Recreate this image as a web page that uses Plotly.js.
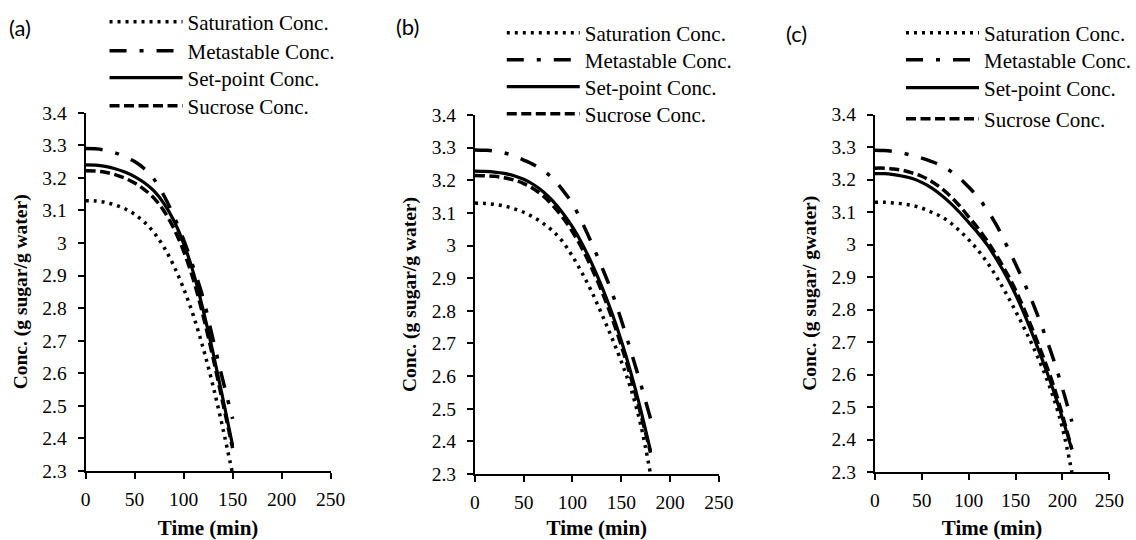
<!DOCTYPE html>
<html>
<head>
<meta charset="utf-8">
<script src="https://cdn.plot.ly/plotly-3.0.1.min.js"></script>
<style>html,body{margin:0;padding:0;background:#fff}#chart{width:1136px;height:540px}</style>
</head>
<body>
<div id="chart"></div>
<script>
// ---------- data ----------
const seriesNames = ["Saturation Conc.", "Metastable Conc.", "Set-point Conc.", "Sucrose Conc."];
const panelLabels = ["(a)", "(b)", "(c)"];
const xTitle = "Time (min)";
const yTitles = ["Conc. (g sugar/g water)", "Conc. (g sugar/g water)", "Conc. (g sugar/ gwater)"];

// Panel (a)
const timeA = [0,10,20,30,40,50,60,70,80,90,100,110,120,130,140,150];
const satA  = [3.13,3.129,3.125,3.117,3.105,3.088,3.064,3.031,2.987,2.93,2.86,2.777,2.677,2.562,2.432,2.292];
const metaA = [3.29,3.289,3.285,3.277,3.265,3.25,3.228,3.195,3.145,3.083,3.01,2.925,2.83,2.705,2.58,2.46];
const setA  = [3.24,3.239,3.235,3.228,3.218,3.204,3.185,3.159,3.121,3.069,2.999,2.909,2.794,2.664,2.524,2.379];
const sucA  = [3.222,3.221,3.217,3.21,3.199,3.184,3.164,3.137,3.098,3.045,2.975,2.887,2.776,2.648,2.51,2.37];

// Panel (b)
const timeB = [0,10,20,30,40,50,60,70,80,90,100,110,120,130,140,150,160,170,180];
const satB  = [3.13,3.129,3.126,3.121,3.113,3.102,3.087,3.068,3.044,3.012,2.967,2.915,2.857,2.79,2.72,2.645,2.56,2.45,2.3];
const metaB = [3.293,3.292,3.29,3.284,3.275,3.262,3.248,3.23,3.205,3.17,3.128,3.07,3.005,2.935,2.86,2.772,2.675,2.575,2.47];
const setB  = [3.228,3.227,3.225,3.221,3.214,3.203,3.187,3.165,3.136,3.1,3.057,3.005,2.944,2.875,2.797,2.709,2.609,2.496,2.371];
const sucB  = [3.215,3.214,3.212,3.208,3.201,3.19,3.174,3.152,3.122,3.086,3.042,2.99,2.929,2.86,2.782,2.694,2.594,2.483,2.365];

// Panel (c)
const timeC = [0,10,20,30,40,50,60,70,80,90,100,110,120,130,140,150,160,170,180,190,200,210];
const satC  = [3.13,3.13,3.128,3.125,3.12,3.112,3.1,3.087,3.068,3.043,3.015,2.982,2.944,2.899,2.849,2.795,2.738,2.677,2.61,2.532,2.435,2.3];
const metaC = [3.29,3.289,3.286,3.281,3.274,3.266,3.256,3.244,3.227,3.205,3.177,3.145,3.105,3.058,3.0,2.94,2.877,2.808,2.732,2.65,2.557,2.455];
const setC  = [3.218,3.218,3.215,3.21,3.203,3.191,3.175,3.154,3.129,3.1,3.068,3.035,2.998,2.953,2.903,2.846,2.781,2.709,2.634,2.554,2.465,2.369];
const sucC  = [3.235,3.235,3.232,3.228,3.22,3.21,3.195,3.175,3.15,3.12,3.085,3.05,3.01,2.965,2.915,2.86,2.795,2.725,2.65,2.57,2.475,2.37];

const xTicks = [0,50,100,150,200,250];
const yTicks = [2.3,2.4,2.5,2.6,2.7,2.8,2.9,3,3.1,3.2,3.3,3.4];

// ---------- styles ----------
const lineStyles = [
  {color:"#000", width:3.5, dash:"3px,5px"},
  {color:"#000", width:3.5, dash:"17px,13px,4px,13px"},
  {color:"#000", width:3.2, dash:"solid"},
  {color:"#000", width:3.5, dash:"10px,4.5px"}
];
const serif = "Liberation Serif";

const panels = [
  {t: timeA, ys:[satA,metaA,setA,sucA]},
  {t: timeB, ys:[satB,metaB,setB,sucB]},
  {t: timeC, ys:[satC,metaC,setC,sucC]}
];

const W = 1136, H = 540;
const plotBoxes = [
  {x0:86,  x1:332,   y0:112.7, y1:471},
  {x0:477, x1:722,   y0:115,   y1:474},
  {x0:878.7, x1:1114.3, y0:114.5, y1:472}
];
// legend entry placement (left x of legend box, row centre y), one per panel
const legendX = [105, 504, 905];
const legendRowsY = [[22,51,78,106],[33,60,87,114],[33,60,88,119]];
const labelPos = [{x:7,y:28},{x:396,y:26},{x:787,y:33}];

const layout = {
  width:W, height:H,
  margin:{l:0,r:0,t:0,b:0},
  paper_bgcolor:"#fff", plot_bgcolor:"#fff",
  showlegend:true,
  font:{family:serif, color:"#000", size:19},
  annotations:[]
};

const traces = [];
let legIdx = 0;
panels.forEach((p, i) => {
  const sfx = i === 0 ? "" : String(i+1);
  p.ys.forEach((y, k) => {
    legIdx += 1;
    const lname = legIdx === 1 ? "legend" : "legend" + legIdx;
    traces.push({
      type:"scatter", mode:"lines", x:p.t, y:y,
      name: seriesNames[k],
      xaxis:"x"+sfx, yaxis:"y"+sfx,
      legend: lname,
      line: Object.assign({shape:"spline", smoothing:1}, lineStyles[k]),
      hoverinfo:"x+y"
    });
    layout[lname] = {
      x:legendX[i]/W, y:1-legendRowsY[i][k]/H, xanchor:"left", yanchor:"middle",
      bgcolor:"rgba(0,0,0,0)", borderwidth:0,
      font:{family:serif, size:21, color:"#000"},
      itemwidth:73
    };
  });
});

plotBoxes.forEach((b, i) => {
  const sfx = i === 0 ? "" : String(i+1);
  layout["xaxis"+sfx] = {
    domain:[b.x0/W, b.x1/W], anchor:"y"+sfx,
    range:[0,250], tickvals:xTicks, ticktext:xTicks.map(String),
    ticks:"outside", ticklen:6, tickwidth:2, tickcolor:"#000",
    showline:true, linecolor:"#000", linewidth:2,
    showgrid:false, zeroline:false, fixedrange:true,
    tickfont:{family:serif, size:19.5, color:"#000"},
    ticklabelstandoff:4,
    title:{text:xTitle, font:{family:serif, size:21, color:"#000", weight:"bold"}, standoff:13}
  };
  layout["yaxis"+sfx] = {
    domain:[1-b.y1/H, 1-b.y0/H], anchor:"x"+sfx,
    range:[2.3,3.4], tickvals:yTicks, ticktext:yTicks.map(String),
    ticks:"outside", ticklen:6, tickwidth:2, tickcolor:"#000",
    showline:true, linecolor:"#000", linewidth:2,
    showgrid:false, zeroline:false, fixedrange:true,
    tickfont:{family:serif, size:19.5, color:"#000"},
    ticklabelstandoff:7,
    title:{text:yTitles[i], font:{family:serif, size:19.5, color:"#000", weight:"bold"}, standoff:10}
  };
  layout.annotations.push({
    text:panelLabels[i], xref:"paper", yref:"paper",
    x:labelPos[i].x/W, y:1-labelPos[i].y/H, xanchor:"left", yanchor:"middle",
    showarrow:false, font:{family:"Lato", size:22, color:"#000"}
  });
});

Plotly.newPlot("chart", traces, layout, {staticPlot:true, displayModeBar:false});
</script>
</body>
</html>
